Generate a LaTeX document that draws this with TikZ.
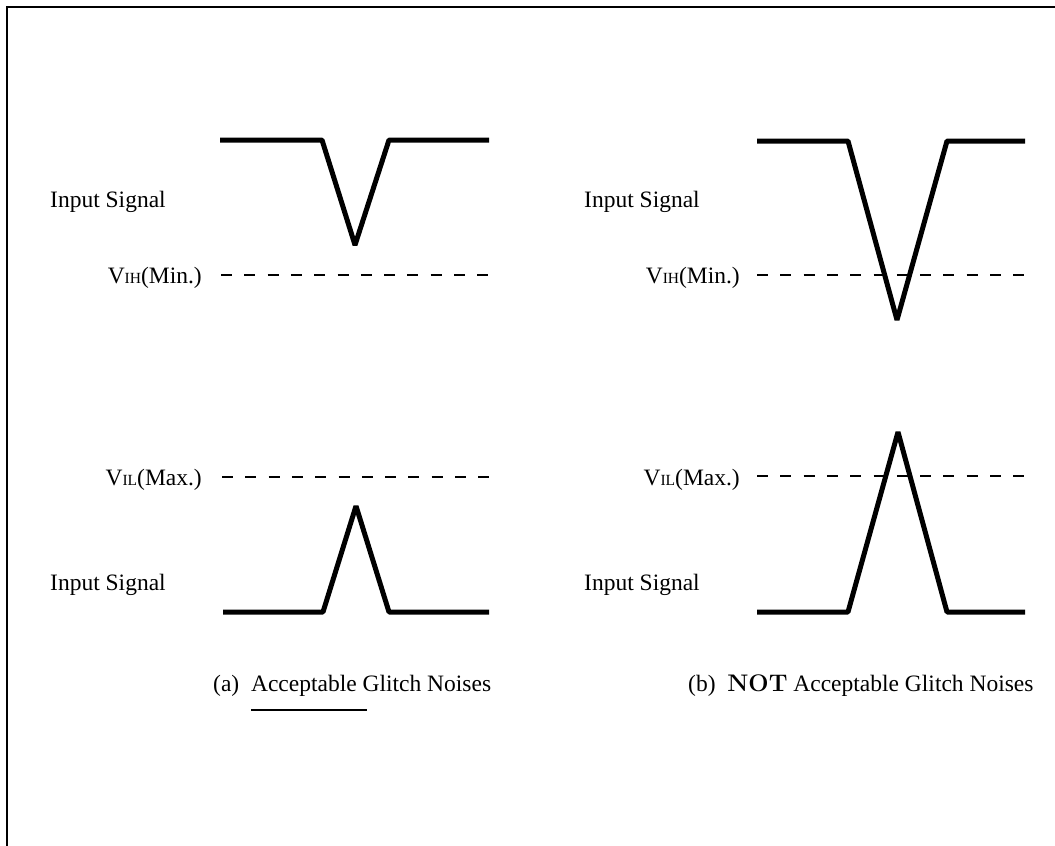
\documentclass[tikz,border=0pt]{standalone}
\usepackage{fontspec}
\newfontfamily\tnr{Liberation Serif}
\newcommand{\subsz}[1]{{\fontsize{15.5}{18}\selectfont #1}}
\begin{document}
\begin{tikzpicture}[x=1pt,y=-1pt,
  lbl/.style={font=\tnr\fontsize{23.5}{28}\selectfont, inner sep=0pt, anchor=base west},
  lblr/.style={lbl, anchor=base east},
  wave/.style={line width=5pt, line join=bevel},
  refline/.style={line width=2.5pt, dash pattern=on 11pt off 12.3pt},
  frameline/.style={line width=2pt}]
\useasboundingbox (0,0) rectangle (1055,846);
% frame (only left and top edges visible)
\draw[frameline] (7,846) -- (7,7) -- (1055,7);

% ---------- panel (a) ----------
\node[lbl] (inA1) at (50,207) {Input Signal};
\node[lblr] (vihA) at (202,283) {V\subsz{IH}(Min.)};
\node[lblr] (vilA) at (202,485) {V\subsz{IL}(Max.)};
\node[lbl] (inA2) at (50,590) {Input Signal};
\draw[wave] (220,140) -- (322,140) -- (355,245) -- (389,140) -- (489,140);
\draw[refline] (221,275) -- (490,275);
\draw[refline] (222,477) -- (490,477);
\draw[wave] (223,612) -- (323,612) -- (356,506) -- (389,612) -- (489,612);
\node[lbl] (capA) at (213,691) {(a)\hspace{0.5em}Acceptable Glitch Noises};
\draw[line width=2pt] (251,710) -- (367,710);

% ---------- panel (b) ----------
\node[lbl] (inB1) at (584,207) {Input Signal};
\node[lblr] (vihB) at (740,283) {V\subsz{IH}(Min.)};
\node[lblr] (vilB) at (740,485) {V\subsz{IL}(Max.)};
\node[lbl] (inB2) at (584,590) {Input Signal};
\draw[wave] (757,141) -- (848,141) -- (897,320) -- (947,141) -- (1025,141);
\draw[refline] (757,275) -- (1025,275);
\draw[refline] (757,476) -- (1025,476);
\draw[wave] (757,612) -- (848,612) -- (898,432) -- (947,612) -- (1025,612);
\node[lbl] (capB) at (688,691) {(b)\hspace{0.5em}{\normalfont\fontsize{24}{28}\selectfont\bfseries NOT} Acceptable Glitch Noises};
\end{tikzpicture}
\end{document}
